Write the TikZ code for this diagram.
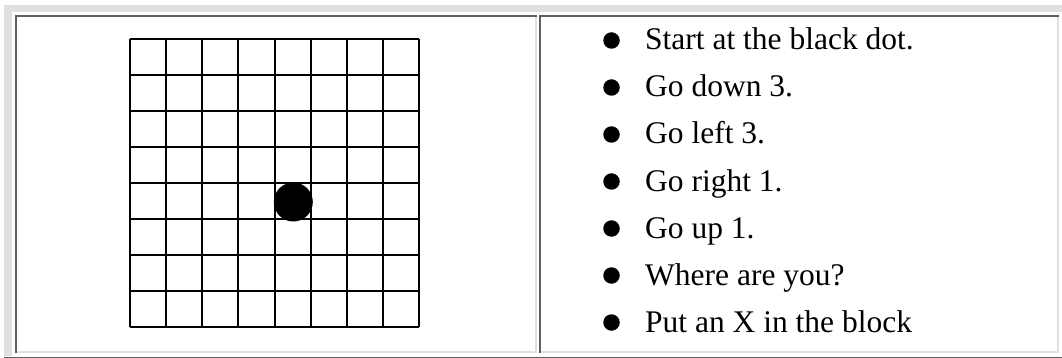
\documentclass[tikz,border=0pt]{standalone}
\usepackage{fontspec}
\setmainfont{Liberation Serif}
\definecolor{lightgr}{HTML}{E0E0E0}
\definecolor{darkgr}{HTML}{5F5F5F}
\begin{document}
\begin{tikzpicture}[x=1pt,y=-1pt,
  gridline/.style={line width=2pt,black},
  bulletdot/.style={circle,fill=black,inner sep=0pt,minimum size=16.5pt},
  itemtext/.style={anchor=base west,inner sep=0pt,font=\fontsize{31.5}{36}\selectfont}]
\useasboundingbox (0,0) rectangle (1062,358);
\fill[white] (0,0) rectangle (1062,358);
% outer table border (outset)
\fill[lightgr] (4,5) rectangle (1062,12.5);
\fill[lightgr] (4,5) rectangle (12,356);
\fill[darkgr] (4,356.5) rectangle (1062,358);
% left cell (inset)
\fill[lightgr] (15,351) rectangle (537,353);
\fill[lightgr] (535,15.5) rectangle (537,353);
\fill[darkgr] (15,15.5) rectangle (537,17);
\fill[darkgr] (15,15.5) rectangle (16.5,353);
% right cell (inset)
\fill[lightgr] (539,351) rectangle (1059,353);
\fill[lightgr] (1057,15.5) rectangle (1059,353);
\fill[darkgr] (539,15.5) rectangle (1059,17);
\fill[darkgr] (539,15.5) rectangle (541,353);
% grid
\foreach \i in {0,...,8} {
  \draw[gridline] ({130+36.125*\i},39) -- ({130+36.125*\i},327);
  \draw[gridline] (130,{39+36*\i}) -- (419,{39+36*\i});
}
\fill[black] (293.3,202) circle (19.5);
% list
\foreach \t [count=\k from 0] in {Start at the black dot.,Go down 3.,Go left 3.,Go right 1.,Go up 1.,Where are you?,Put an X in the block} {
  \node[bulletdot] (b\k) at (611.5,{50+47*\k-9.5}) {};
  \node[itemtext] (t\k) at (645,{50+47*\k}) {\t};
}
\end{tikzpicture}
\end{document}
